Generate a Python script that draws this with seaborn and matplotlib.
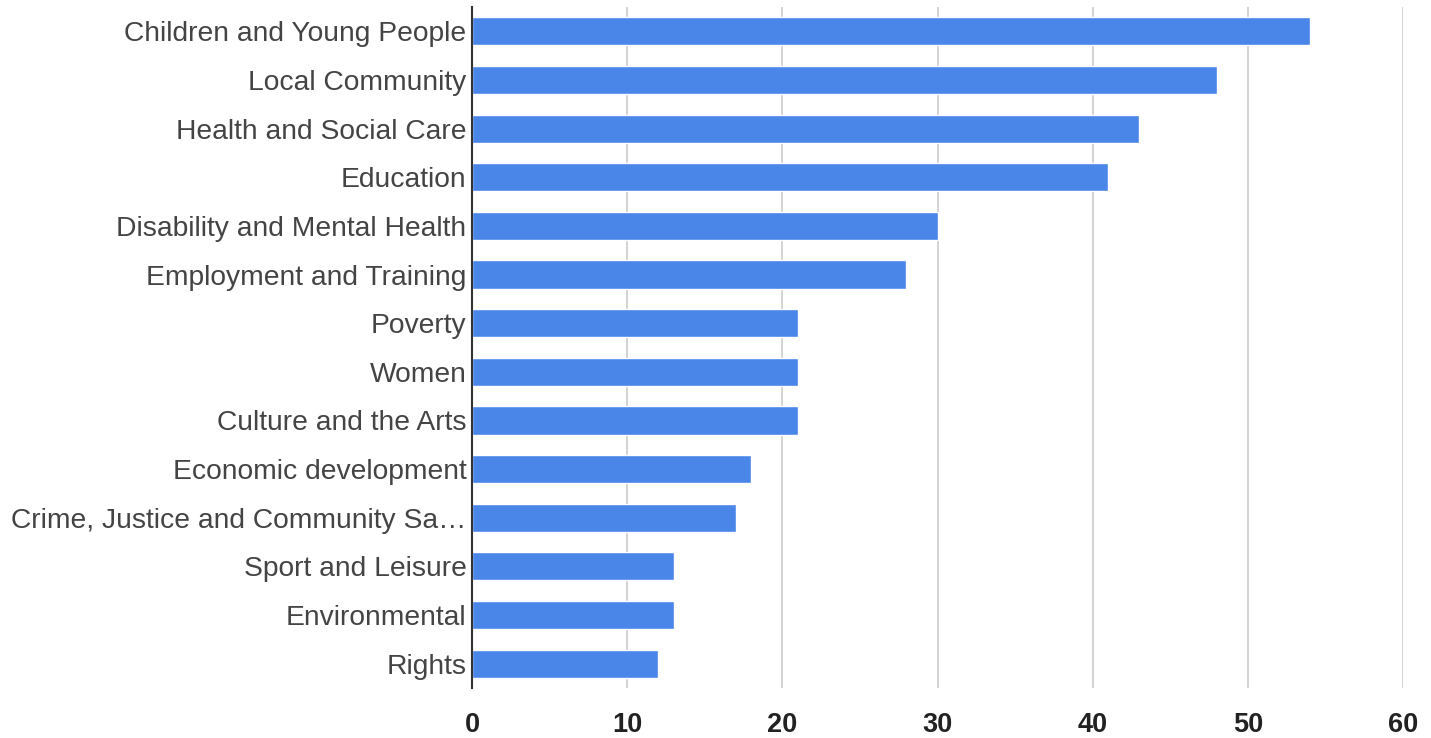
import pandas as pd
import matplotlib.pyplot as plt
import seaborn as sns

# data
categories = [
    'Children and Young People', 'Local Community', 'Health and Social Care',
    'Education', 'Disability and Mental Health', 'Employment and Training',
    'Poverty', 'Women', 'Culture and the Arts', 'Economic development',
    'Crime, Justice and Community Sa\u2026', 'Sport and Leisure',
    'Environmental', 'Rights',
]
counts = [54, 48, 43, 41, 30, 28, 21, 21, 21, 18, 17, 13, 13, 12]
x_ticks = [0, 10, 20, 30, 40, 50, 60]

df = pd.DataFrame({'category': categories, 'count': counts})

sns.set_style('white')
plt.rcParams['font.family'] = ['Liberation Sans', 'DejaVu Sans']

fig = plt.figure(figsize=(14.31, 7.38), dpi=100)
ax = fig.add_axes([472 / 1431, 1 - 688 / 738, (1403 - 472) / 1431, 681 / 738])

sns.barplot(data=df, y='category', x='count', orient='h', color='#4a86e8',
            saturation=1, width=0.58, ax=ax)

ax.set_xlim(0, 60)
ax.set_xticks(x_ticks)
ax.grid(axis='x', color='#cccccc', linewidth=1.2)
ax.set_axisbelow(True)
for s in ['top', 'right', 'bottom']:
    ax.spines[s].set_visible(False)
ax.spines['left'].set_color('#333333')
ax.spines['left'].set_linewidth(1.5)
ax.spines['left'].set_zorder(5)
ax.set_xlabel('')
ax.set_ylabel('')
ax.tick_params(axis='y', length=0, pad=4, labelsize=20.3, labelcolor='#444444')
ax.tick_params(axis='x', length=0, pad=17, labelsize=19.5, labelcolor='#222222')
for lbl in ax.get_xticklabels():
    lbl.set_fontweight('bold')

fig.savefig('out.png', dpi=100)
